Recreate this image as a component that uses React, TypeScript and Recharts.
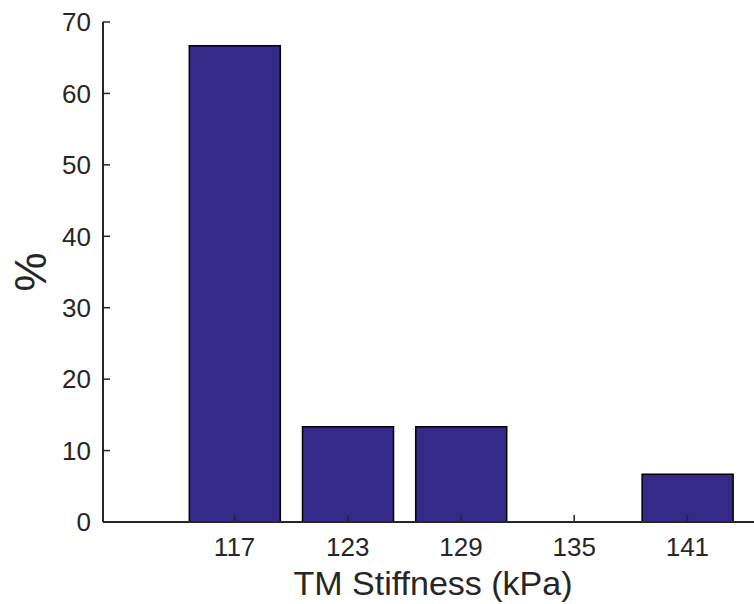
import React from 'react';
import { BarChart, Bar, XAxis, YAxis } from 'recharts';

const stiffness = ['117', '123', '129', '135', '141'];
const percent = [66.67, 13.33, 13.33, 0, 6.67];
const yTicks = [0, 10, 20, 30, 40, 50, 60, 70];

const data = stiffness.map((s, i) => ({ name: s, pct: percent[i] }));

const AXIS = '#262626';
const FONT = '"Liberation Sans", Arial, Helvetica, sans-serif';

// box edges (from chart size / margins below)
const W = 763;
const H = 604;
const TOP = 22;
const X_AXIS_H = 82;
const Y_AXIS_W = 103;
const BOTTOM = H - X_AXIS_H;
const LEFT = Y_AXIS_W;
const TICK_LEN = 7;

// MATLAB style: tick marks point into the plot box
const BottomTick = (props: any) => {
  const { x, payload } = props;
  return (
    <g>
      <line x1={x} x2={x} y1={BOTTOM} y2={BOTTOM - TICK_LEN} stroke={AXIS} strokeWidth={1.5} />
      <text x={x} y={BOTTOM + 16} dy="0.71em" textAnchor="middle" fontSize={26} fontFamily={FONT} fill={AXIS}>
        {payload.value}
      </text>
    </g>
  );
};

const TopTick = (props: any) => {
  const { x } = props;
  return <line x1={x} x2={x} y1={TOP} y2={TOP + TICK_LEN} stroke={AXIS} strokeWidth={1.5} />;
};

const LeftTick = (props: any) => {
  const { y, payload } = props;
  return (
    <g>
      <line x1={LEFT} x2={LEFT + TICK_LEN} y1={y} y2={y} stroke={AXIS} strokeWidth={1.5} />
      <text x={LEFT - 12} y={y} dy="0.355em" textAnchor="end" fontSize={26} fontFamily={FONT} fill={AXIS}>
        {payload.value}
      </text>
    </g>
  );
};

const PercentLabel = (props: any) => {
  const vb = props.viewBox || { x: 0, y: 0, width: 0, height: 0 };
  const cx = 30;
  const cy = vb.y + vb.height / 2;
  return (
    <text
      x={cx}
      y={cy}
      transform={`rotate(-90, ${cx}, ${cy})`}
      textAnchor="middle"
      dominantBaseline="central"
      fontSize={44}
      fontFamily={FONT}
      fill={AXIS}
    >
      %
    </text>
  );
};

export default function App() {
  return (
    <div style={{ position: 'absolute', left: 0, top: 0, width: 754, height: H, overflow: 'hidden', background: '#fff' }}>
      <BarChart
        width={W}
        height={H}
        data={data}
        margin={{ top: TOP, right: 0, bottom: 0, left: 0 }}
        barCategoryGap="10%"
        style={{ fontFamily: FONT }}
      >
        <XAxis
          xAxisId="x"
          dataKey="name"
          height={X_AXIS_H}
          padding={{ left: 75, right: 19 }}
          axisLine={{ stroke: AXIS, strokeWidth: 2 }}
          tickLine={false}
          tick={<BottomTick />}
          label={{ value: 'TM Stiffness (kPa)', position: 'insideBottom', offset: 9, fill: AXIS, fontSize: 34 }}
        />
        {/* top edge of the box */}
        <XAxis
          xAxisId="top"
          dataKey="name"
          orientation="top"
          height={0}
          padding={{ left: 75, right: 19 }}
          axisLine={{ stroke: AXIS, strokeWidth: 2 }}
          tickLine={false}
          tick={<TopTick />}
        />
        <YAxis
          width={Y_AXIS_W}
          domain={[0, 70]}
          ticks={yTicks}
          interval={0}
          axisLine={{ stroke: AXIS, strokeWidth: 2 }}
          tickLine={false}
          tick={<LeftTick />}
          label={<PercentLabel />}
        />
        <Bar
          xAxisId="x"
          dataKey="pct"
          fill="#352A87"
          stroke="#000"
          strokeWidth={1.5}
          isAnimationActive={false}
        />
      </BarChart>
    </div>
  );
}
